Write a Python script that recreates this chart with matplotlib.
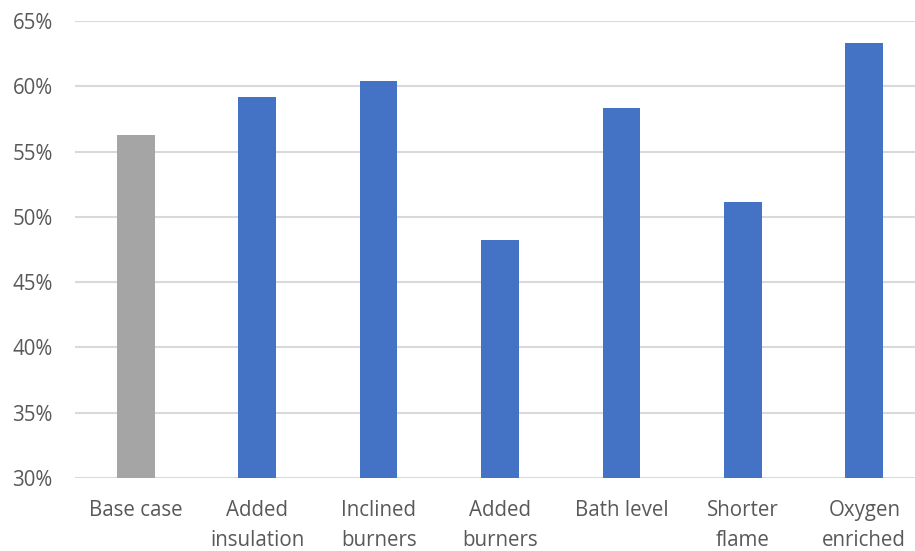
import matplotlib.pyplot as plt
from matplotlib.ticker import FuncFormatter

categories = ['Base case', 'Added\ninsulation', 'Inclined\nburners', 'Added\nburners',
              'Bath level', 'Shorter\nflame', 'Oxygen\nenriched']
efficiency = [56.3, 59.15, 60.4, 48.25, 58.3, 51.1, 63.3]
bar_colors = ['#A5A5A5', '#4472C4', '#4472C4', '#4472C4', '#4472C4', '#4472C4', '#4472C4']
y_ticks = [30, 35, 40, 45, 50, 55, 60, 65]

plt.rcParams['font.family'] = ['Open Sans', 'DejaVu Sans']

fig = plt.figure(figsize=(9.15, 5.51), dpi=100)
# axes runs a little past the right edge, like the cropped original
ax = fig.add_axes([75 / 915, 73 / 551, 850 / 915, 457 / 551])

x = range(len(categories))
ax.bar(x, [v - 30 for v in efficiency], bottom=30, width=0.31, color=bar_colors, zorder=3)

ax.set_xlim(-0.5, len(categories) - 0.5)
ax.set_ylim(30, 65)
ax.set_yticks(y_ticks)
ax.yaxis.set_major_formatter(FuncFormatter(lambda v, p: f'{v:.0f}%'))
ax.set_xticks(list(x))
ax.set_xticklabels(categories, linespacing=1.55)

ax.grid(axis='y', color='#D9D9D9', linewidth=1.5, zorder=0)
for s in ax.spines.values():
    s.set_visible(False)
ax.tick_params(axis='both', length=0, labelsize=14.8, colors='#595959')
ax.tick_params(axis='y', pad=16)
ax.tick_params(axis='x', pad=16)

plt.savefig('out.png', dpi=100)
